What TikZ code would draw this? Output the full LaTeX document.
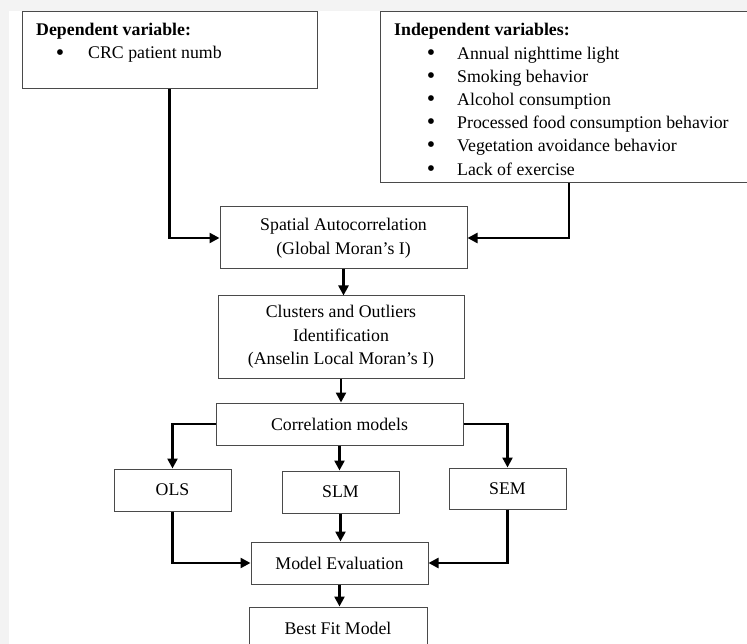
\documentclass[tikz,border=0pt]{standalone}
\usepackage{fontspec}
\setmainfont{Liberation Serif}
\usetikzlibrary{arrows.meta}
\definecolor{boxc}{HTML}{4A4A4A}
\definecolor{bgc}{HTML}{F3F3F3}
\begin{document}
\begin{tikzpicture}[x=1pt,y=-1pt,
  box/.style={draw=boxc,line width=1pt,fill=white,rectangle,inner sep=0pt,
    font=\fontsize{17.8}{23.5}\selectfont,align=center},
  txt/.style={font=\fontsize{17.8}{23.5}\selectfont,inner sep=0pt,anchor=west,
    text height=12pt,text depth=4pt},
  bul/.style={font=\fontsize{24}{24}\selectfont,inner sep=0pt,anchor=center},
  arr/.style={line width=2.4pt,-{Triangle[length=10pt,width=10pt]}}]
\useasboundingbox (0,0) rectangle (747,644);
\fill[bgc] (0,0) rectangle (747,644);
\fill[white] (9,11) rectangle (747,644);

% top boxes
\node[box,minimum width=295pt,minimum height=77pt] (dep) at (169.5,50.5) {};
\node[txt,font=\fontsize{17.8}{23.5}\selectfont\bfseries] (dept) at (36,32) {Dependent variable:};
\node[bul] (depb) at (60,55) {\textbullet};
\node[txt] (depi) at (88,55) {CRC patient numb};

\node[box,minimum width=372pt,minimum height=171pt] (ind) at (566,97.5) {};
\node[txt,font=\fontsize{17.8}{23.5}\selectfont\bfseries] (indt) at (394,32) {Independent variables:};
\foreach \t [count=\n] in {Annual nighttime light,Smoking behavior,Alcohol consumption,Processed food consumption behavior,Vegetation avoidance behavior,Lack of exercise}{
  \node[bul] (indb\n) at (431,31.5+23.2*\n) {\textbullet};
  \node[txt] (indi\n) at (457,32+23.2*\n) {\t};
}

% flow boxes
\node[box,minimum width=247pt,minimum height=62pt] (spat) at (343.5,238) {Spatial Autocorrelation\\(Global Moran’s I)};
\node[box,minimum width=246pt,minimum height=82pt] (clus) at (341,337) {Clusters and Outliers\\Identification\\(Anselin Local Moran’s I)};
\node[box,minimum width=247pt,minimum height=42pt] (corr) at (339.5,424) {Correlation models};
\node[box,minimum width=117pt,minimum height=42pt] (ols) at (172.5,490) {OLS};
\node[box,minimum width=117pt,minimum height=42pt] (slm) at (340.5,492) {SLM};
\node[box,minimum width=117pt,minimum height=41pt] (sem) at (507.5,488.5) {SEM};
\node[box,minimum width=177pt,minimum height=42pt] (me) at (339.5,563) {Model Evaluation};
\node[box,minimum width=178pt,minimum height=43pt] (best) at (338,628.5) {Best Fit Model};

% connectors
\draw[arr] (dep.south) |- (spat.west);
\draw[arr] (ind.south) ++(3,0) coordinate (indo) |- (spat.east);
\draw[arr] (spat.south) -- (spat.south |- clus.north);
\draw[arr] (clus.south) -- (clus.south |- corr.north);
\draw[arr] (corr.west) -| (ols.north);
\draw[arr] (corr.east) -| (sem.north);
\draw[arr] (corr.south) -- (corr.south |- slm.north);
\draw[arr] (ols.south) |- (me.west);
\draw[arr] (sem.south) |- (me.east);
\draw[arr] (slm.south) -- (slm.south |- me.north);
\draw[arr] (me.south) -- (me.south |- best.north);
\end{tikzpicture}
\end{document}
